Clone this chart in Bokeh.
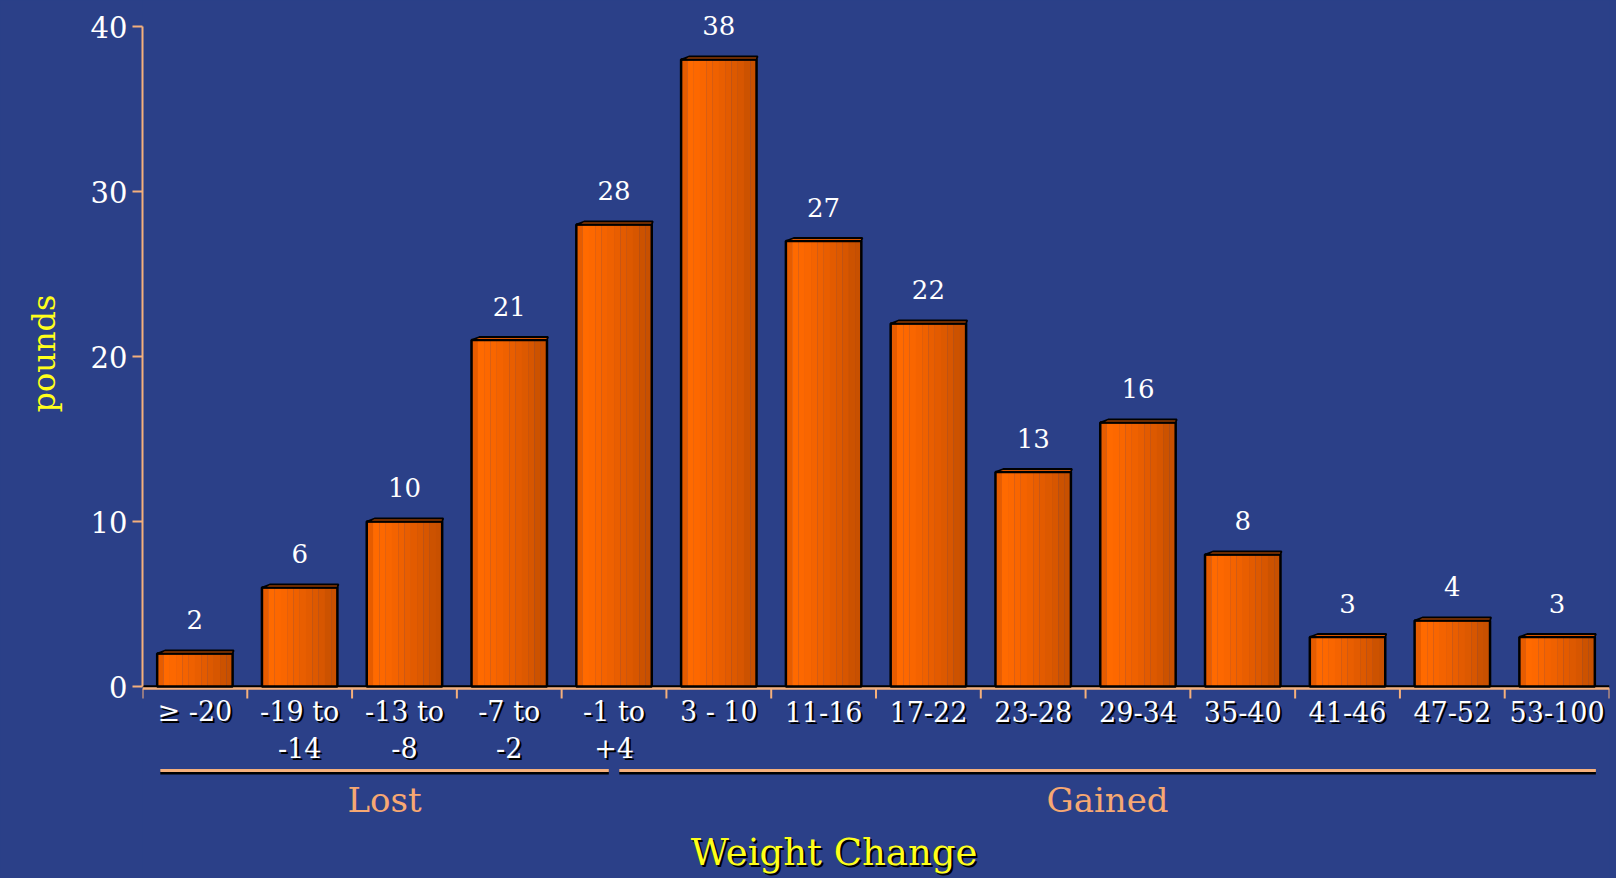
import numpy as np
from bokeh.plotting import figure
from bokeh.models import ColumnDataSource, LabelSet, Label, Range1d, FixedTicker
from bokeh.core.properties import value
from bokeh.embed import file_html
from bokeh.resources import INLINE

# ---- data ----
categories = ["\u2265 -20", "-19 to\n-14", "-13 to\n-8", "-7 to\n-2", "-1 to\n+4",
              "3 - 10", "11-16", "17-22", "23-28", "29-34", "35-40", "41-46", "47-52", "53-100"]
counts = [2, 6, 10, 21, 28, 38, 27, 22, 13, 16, 8, 3, 4, 3]
y_ticks = [0, 10, 20, 30, 40]
groups = ["Lost", "Gained"]
group_start = [0, 4.5]   # span in category units
group_end = [4.5, 14]
x_title = "Weight Change"
y_title = "pounds"

# ---- styles / layout ----
BG = "#2b4088"
FONT = "DejaVu Serif"
PEACH = "#f5b07c"
PEACH_TXT = "#f7a872"
YELLOW = "#ffff1a"
W, H = 1616, 878
ZERO = 686          # pixel row of y = 0
PX = 16.5           # pixels per y unit
LEFT, RIGHT = 142, 7

n = len(categories)
idx = np.arange(n)
centers = idx + 0.5
vals = np.array(counts, dtype=float)
ymax = max(y_ticks)

p = figure(width=W, height=H, x_range=Range1d(0, n),
           y_range=Range1d(-(H - ZERO) / PX, ZERO / PX),
           output_backend="svg", toolbar_location=None, x_axis_location=None,
           min_border_left=LEFT, min_border_right=RIGHT, min_border_top=0, min_border_bottom=0,
           title=y_title, title_location="left")
p.background_fill_color = BG
p.border_fill_color = BG
p.outline_line_color = None
p.grid.visible = False

# y title (as a left-side title so it sits beside the 0..40 part of the axis)
p.title.text_color = YELLOW
p.title.text_font = FONT
p.title.text_font_size = "32px"
p.title.text_font_style = "normal"
p.title.align = "right"
p.title.offset = 294
p.title.vertical_align = "top"
p.title.standoff = 46

ya = p.yaxis[0]
ya.bounds = (0, ymax)
ya.ticker = FixedTicker(ticks=y_ticks)
ya.axis_line_color = PEACH
ya.axis_line_width = 2
ya.major_tick_line_color = PEACH
ya.major_tick_line_width = 2
ya.major_tick_out = 10
ya.major_tick_in = 0
ya.minor_tick_line_color = None
ya.major_label_text_color = "white"
ya.major_label_text_font = FONT
ya.major_label_text_font_size = "29px"
ya.major_label_standoff = 5

# category axis line, floor line and boundary ticks
bounds_x = np.arange(n + 1)
p.segment(x0=[0], y0=[0], x1=[n], y1=[0], line_color="black", line_width=2.5)
p.segment(x0=[0], y0=[-2 / PX], x1=[n], y1=[-2 / PX], line_color=PEACH, line_width=2.5)
p.segment(x0=bounds_x, y0=-2 / PX, x1=bounds_x, y1=-12 / PX, line_color=PEACH, line_width=2)

# bars as gradient strips
bar_w = 0.72
strip_colors = ["#e65c00", "#ff6a00", "#fd6800", "#f96600", "#f46300", "#ef6100",
                "#e95e00", "#e35b00", "#dd5900", "#d75600", "#cc5200", "#c85000"]
ns = len(strip_colors)
sw = bar_w / ns
L, R, T, C = [], [], [], []
for k, col in enumerate(strip_colors):
    L.extend(centers - bar_w / 2 + k * sw)
    R.extend(centers - bar_w / 2 + (k + 1) * sw + 0.002)
    T.extend(vals)
    C.extend([col] * n)
p.quad(left=L, right=R, bottom=0, top=T, fill_color=C, line_color=None)

bars = ColumnDataSource(dict(left=centers - bar_w / 2, right=centers + bar_w / 2, top=vals))
p.quad(left="left", right="right", bottom=0, top="top", source=bars,
       fill_color=None, line_color="black", line_width=2.5)

# 3D caps
dx, dy = 0.075, 3 / PX
cap_xs = [[l, l + dx, r + 0.01, r] for l, r in zip(centers - bar_w / 2, centers + bar_w / 2)]
cap_ys = [[t, t + dy, t + dy, t] for t in vals]
p.patches(cap_xs, cap_ys, fill_color="#d85600", line_color="black", line_width=1.8)

# value labels
vsrc = ColumnDataSource(dict(x=centers, y=vals, t=[str(c) for c in counts]))
p.add_layout(LabelSet(x="x", y="y", text="t", source=vsrc, y_offset=34,
                      text_align="center", text_baseline="middle",
                      text_color="white", text_font=value(FONT), text_font_size="26px"))

# category labels (two rows, with shadow)
line1 = [c.split("\n")[0] for c in categories]
line2 = [c.split("\n")[1] if "\n" in c else "" for c in categories]
csrc = ColumnDataSource(dict(x=centers, y1=np.full(n, -25 / PX), y2=np.full(n, -61 / PX),
                             t1=line1, t2=line2))
for off, col in ((2, "black"), (0, "white")):
    for yf, tf in (("y1", "t1"), ("y2", "t2")):
        p.add_layout(LabelSet(x="x", y=yf, text=tf, source=csrc, x_offset=off, y_offset=-off,
                              text_align="center", text_baseline="middle",
                              text_color=col, text_font=value(FONT), text_font_size="27px"))

# group lines and labels
gs = np.array(group_start, dtype=float)
ge = np.array(group_end, dtype=float)
x0 = gs + np.where(gs == 0, 0.17, 0.05)
x1 = ge - np.where(ge == n, 0.13, 0.05)
line_y = -84 / PX
gsrc = ColumnDataSource(dict(x0=x0, x1=x1, y=np.full(2, line_y), ys=np.full(2, line_y - 2.5 / PX),
                             xm=(x0 + x1) / 2, ly=np.full(2, -113 / PX), t=groups))
p.segment(x0="x0", y0="ys", x1="x1", y1="ys", source=gsrc, line_color="black", line_width=3)
p.segment(x0="x0", y0="y", x1="x1", y1="y", source=gsrc, line_color=PEACH, line_width=3)
p.add_layout(LabelSet(x="xm", y="ly", text="t", source=gsrc, text_align="center",
                      text_baseline="middle", text_color=PEACH_TXT, text_font=value(FONT),
                      text_font_size="34px"))

# x title
for off, col in ((2, "black"), (0, YELLOW)):
    p.add_layout(Label(x=6.6, y=-166 / PX, text=x_title, x_offset=off, y_offset=-off,
                       text_align="center", text_baseline="middle", text_color=col,
                       text_font=FONT, text_font_size="37px"))

html = file_html(p, INLINE)
html = html.replace("<head>", "<head><style>html, body {background: %s;}</style>" % BG, 1)
open("out.html", "w").write(html)
